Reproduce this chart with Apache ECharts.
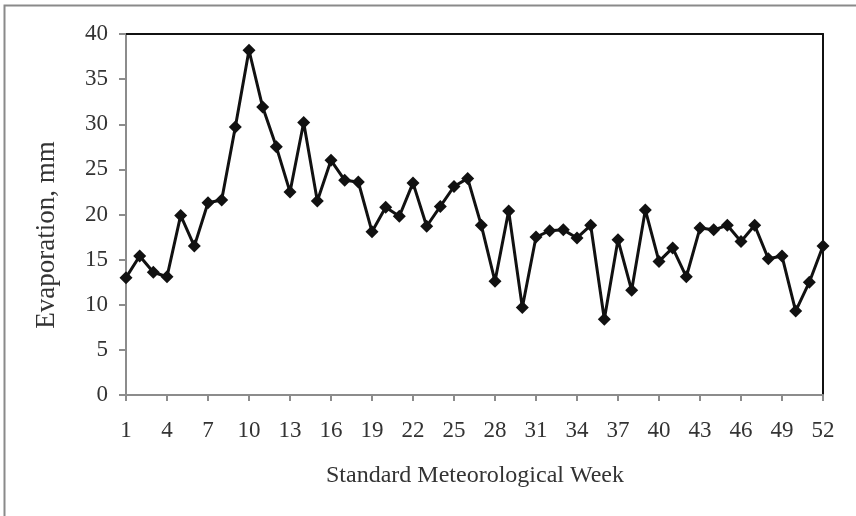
<!DOCTYPE html>
<html>
<head>
<meta charset="utf-8">
<script src="https://cdn.jsdelivr.net/npm/echarts@6/dist/echarts.min.js"></script>
<style>
  html, body { margin: 0; padding: 0; background: #fff; }
  #chart { width: 856px; height: 516px; }
</style>
</head>
<body>
<div id="chart"></div>
<script>
// Standard meteorological weeks
const weeks = ['1','2','3','4','5','6','7','8','9','10','11','12','13','14','15','16','17','18','19','20',
  '21','22','23','24','25','26','27','28','29','30','31','32','33','34','35','36','37','38','39','40',
  '41','42','43','44','45','46','47','48','49','50','51','52'];

// Weekly evaporation (mm)
const evaporation = [13.0, 15.4, 13.6, 13.1, 19.9, 16.5, 21.3, 21.6, 29.7, 38.2,
  31.9, 27.5, 22.5, 30.2, 21.5, 26.0, 23.8, 23.6, 18.1, 20.8,
  19.8, 23.5, 18.7, 20.9, 23.1, 24.0, 18.8, 12.6, 20.4, 9.7,
  17.5, 18.2, 18.3, 17.4, 18.8, 8.4, 17.2, 11.6, 20.5, 14.8,
  16.3, 13.1, 18.5, 18.3, 18.8, 17.0, 18.8, 15.1, 15.4, 9.3,
  12.5, 16.5];

const yTicks = { min: 0, max: 40, step: 5 };
const xTitle = 'Standard Meteorological Week';
const yTitle = 'Evaporation, mm';

const FONT = '"Liberation Serif", "Times New Roman", serif';
const AXIS_GREY = '#8c8c8c';
const TEXT = '#333';

const chart = echarts.init(document.getElementById('chart'), null, { renderer: 'canvas' });

chart.setOption({
  animation: false,
  backgroundColor: '#fff',
  grid: { left: 126, right: 33, top: 34, bottom: 121, outerBoundsMode: 'none' },
  xAxis: [{
    type: 'category',
    data: weeks,
    boundaryGap: false,
    axisLine: { onZero: false, lineStyle: { color: AXIS_GREY, width: 2 } },
    axisTick: { interval: 2, length: 6, lineStyle: { color: AXIS_GREY, width: 2 } },
    axisLabel: { interval: 2, margin: 24, color: TEXT, fontFamily: FONT, fontSize: 23 },
    splitLine: { show: false }
  }, {
    type: 'category',
    data: weeks,
    boundaryGap: false,
    position: 'top',
    axisLine: { onZero: false, lineStyle: { color: '#111', width: 2 } },
    axisTick: { show: false },
    axisLabel: { show: false },
    splitLine: { show: false }
  }],
  yAxis: [{
    type: 'value',
    min: yTicks.min,
    max: yTicks.max,
    interval: yTicks.step,
    axisLine: { show: true, onZero: false, lineStyle: { color: AXIS_GREY, width: 2 } },
    axisTick: { show: true, length: 7, lineStyle: { color: AXIS_GREY, width: 2 } },
    axisLabel: { margin: 18, color: TEXT, fontFamily: FONT, fontSize: 23 },
    splitLine: { show: false }
  }, {
    type: 'value',
    min: yTicks.min,
    max: yTicks.max,
    interval: yTicks.step,
    position: 'right',
    axisLine: { show: true, onZero: false, lineStyle: { color: '#111', width: 2 } },
    axisTick: { show: false },
    axisLabel: { show: false },
    splitLine: { show: false }
  }],
  graphic: [
    {
      // outer frame around the figure
      type: 'rect',
      shape: { x: 4.5, y: 5.5, width: 900, height: 600 },
      style: { fill: 'none', stroke: '#8a8a8a', lineWidth: 2 },
      silent: true
    },
    {
      type: 'text',
      x: 475, y: 476,
      style: {
        text: xTitle, fill: TEXT, font: '24px ' + FONT,
        align: 'center', verticalAlign: 'middle'
      }
    },
    {
      type: 'text',
      x: 47, y: 235,
      rotation: Math.PI / 2,
      style: {
        text: yTitle, fill: TEXT, font: '27px ' + FONT,
        align: 'center', verticalAlign: 'middle'
      }
    }
  ],
  series: [{
    type: 'line',
    data: evaporation,
    xAxisIndex: 0,
    yAxisIndex: 0,
    symbol: 'diamond',
    symbolSize: 13,
    showAllSymbol: true,
    lineStyle: { color: '#111', width: 3 },
    itemStyle: { color: '#111' },
    z: 5
  }]
});
</script>
</body>
</html>
